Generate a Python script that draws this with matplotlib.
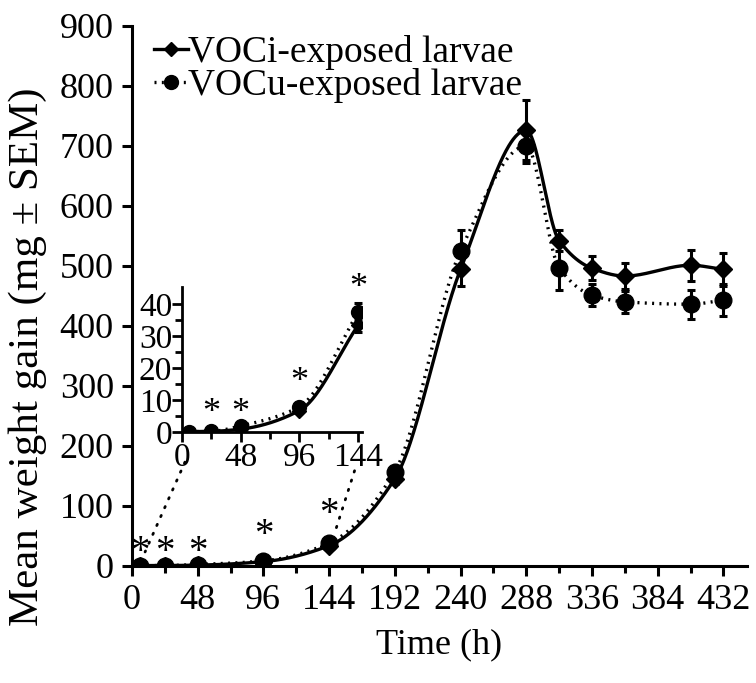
import numpy as np
import matplotlib
matplotlib.use('Agg')
import matplotlib.pyplot as plt
from matplotlib.patches import ConnectionPatch
from matplotlib.lines import Line2D

plt.rcParams['font.family'] = ['Liberation Serif', 'DejaVu Serif']

hours = [6, 24, 48, 96, 144, 192, 240, 288, 312, 336, 360, 408, 432]
voci_mean = [0.2, 0.3, 1.0, 6.8, 33.5, 145, 494, 726, 542, 496, 483, 501, 494]
voci_sem = [0.1, 0.1, 0.3, 0.8, 2.0, 8, 28, 50, 17, 20, 21, 26, 28]
vocu_mean = [0.2, 0.3, 2.0, 8.0, 37.5, 157, 525, 700, 497, 451, 440, 436, 443]
vocu_sem = [0.1, 0.1, 0.4, 1.0, 3.0, 9, 34, 28, 38, 18, 18, 24, 27]

star_hours_main = [6, 24, 48, 96, 144]
star_y_main = [22, 22, 22, 50, 85]
star_hours_inset = [24, 48, 96, 144]
star_y_inset = [6.0, 6.0, 15.5, 45]


def smooth(x, y, n=800):
    # monotone cubic (pchip) just for drawing the curve
    x = np.asarray(x, float)
    y = np.asarray(y, float)
    h = np.diff(x)
    delta = np.diff(y) / h
    m = len(x)
    d = np.zeros(m)
    for k in range(1, m - 1):
        if delta[k - 1] * delta[k] > 0:
            w1 = 2 * h[k] + h[k - 1]
            w2 = h[k] + 2 * h[k - 1]
            d[k] = (w1 + w2) / (w1 / delta[k - 1] + w2 / delta[k])
    d[0] = delta[0]
    d[-1] = delta[-1]
    xs = np.linspace(x[0], x[-1], n)
    k = np.clip(np.searchsorted(x, xs) - 1, 0, m - 2)
    t = (xs - x[k]) / h[k]
    h00 = 2 * t ** 3 - 3 * t ** 2 + 1
    h10 = t ** 3 - 2 * t ** 2 + t
    h01 = -2 * t ** 3 + 3 * t ** 2
    h11 = t ** 3 - t ** 2
    ys = h00 * y[k] + h10 * h[k] * d[k] + h01 * y[k + 1] + h11 * h[k] * d[k + 1]
    return xs, ys


def draw(ax, upto=None, ms_d=9, ms_c=12):
    sel = slice(None) if upto is None else slice(0, upto)
    h = np.array(hours)[sel]
    xs, ys = smooth(h, np.array(voci_mean)[sel])
    ax.plot(xs, ys, color='black', lw=2.4, zorder=3)
    xs, ys = smooth(h, np.array(vocu_mean)[sel])
    ax.plot(xs, ys, color='black', lw=2.4, ls=(0, (0.6, 1.6)), zorder=3)
    ax.errorbar(h, np.array(voci_mean)[sel], yerr=np.array(voci_sem)[sel], fmt='D',
                color='black', ms=ms_d, elinewidth=2.2, capsize=3, capthick=2.2, zorder=4)
    ax.errorbar(h, np.array(vocu_mean)[sel], yerr=np.array(vocu_sem)[sel], fmt='o',
                color='black', ms=ms_c, elinewidth=2.2, capsize=3, capthick=2.2, zorder=4)


def style(ax, lw=2.2):
    for s in ['top', 'right']:
        ax.spines[s].set_visible(False)
    for s in ['left', 'bottom']:
        ax.spines[s].set_linewidth(lw)
    ax.tick_params(which='major', length=7, width=lw, direction='out')
    ax.tick_params(which='minor', length=5, width=lw, direction='out')


fig = plt.figure(figsize=(7.56, 6.83), dpi=100)
ax = fig.add_axes([0.1745, 0.1717, 0.8132, 0.7903])
draw(ax)
ax.set_xlim(0, 449)
ax.set_ylim(0, 900)
ax.set_xticks(range(0, 433, 48))
ax.set_xticks(range(24, 433, 48), minor=True)
ax.set_yticks(range(0, 901, 100))
style(ax)
ax.tick_params(labelsize=26)
ax.tick_params(axis='x', pad=6)
ax.tick_params(axis='y', pad=6)
ax.set_xlabel('Time (h)', fontsize=26, labelpad=8)
ax.set_ylabel('Mean weight gain (mg ± SEM)', fontsize=31)
ax.yaxis.set_label_coords(-0.138, 0.387)
for xh, yh in zip(star_hours_main, star_y_main):
    ax.text(xh, yh, '*', fontsize=28, ha='center', va='center')

handles = [Line2D([], [], color='black', lw=2.4, marker='D', ms=7),
           Line2D([], [], color='black', lw=2.4, ls=(0, (0.6, 1.6)), marker='o', ms=10)]
ax.legend(handles, ['VOCi-exposed larvae', 'VOCu-exposed larvae'], loc='upper left',
          bbox_to_anchor=(0.0, 1.024), frameon=False, fontsize=27, handlelength=0.9,
          handletextpad=0.0, labelspacing=-0.07, borderaxespad=0.2)

ins = fig.add_axes([0.2406, 0.367, 0.2378, 0.2132])
draw(ins, upto=5, ms_d=7, ms_c=10)
ins.set_xlim(0, 146.8)
ins.set_ylim(0, 45.5)
ins.set_xticks([0, 48, 96, 144])
ins.set_xticks([24, 72, 120], minor=True)
ins.set_yticks([0, 10, 20, 30, 40])
ins.set_yticks([5, 15, 25, 35], minor=True)
style(ins, lw=2.0)
ins.tick_params(labelsize=24, pad=0)
ins.patch.set_alpha(0)
for xh, yh in zip(star_hours_inset, star_y_inset):
    ins.text(xh, yh, '*', fontsize=26, ha='center', va='center')

for (xa, ya), (xb, yb) in [((2.5, -9.3), (9.6, 23)), ((141, -12), (148, 54))]:
    con = ConnectionPatch(xyA=(xa, ya), coordsA=ins.transData, xyB=(xb, yb), coordsB=ax.transData,
                          color='black', lw=2.0, ls=(0, (0.5, 3)))
    fig.add_artist(con)

fig.savefig('out.png', dpi=100)
